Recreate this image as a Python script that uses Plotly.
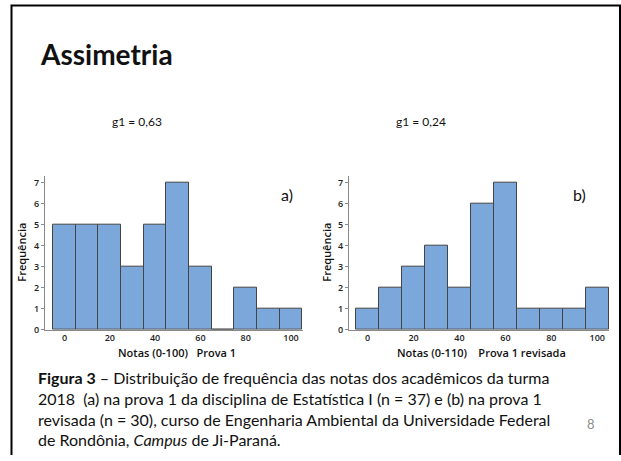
import plotly.graph_objects as go

W, H = 621, 461

bins = [0, 10, 20, 30, 40, 50, 60, 70, 80, 90, 100]
freq_a = [5, 5, 5, 3, 5, 7, 3, 0, 2, 1, 1]
freq_b = [1, 2, 3, 4, 2, 6, 7, 1, 1, 1, 2]
y_ticks = [0, 1, 2, 3, 4, 5, 6, 7]
x_ticks = [0, 20, 40, 60, 80, 100]

title_text = "Assimetria"
g1_a = "g1 = 0,63"
g1_b = "g1 = 0,24"
xtitle_a = "Notas (0-100)&nbsp;&nbsp;&nbsp;Prova 1"
xtitle_b = "Notas (0-110)&nbsp;&nbsp;&nbsp;&nbsp;Prova 1 revisada"
ytitle = "Frequência"
caption = ("<b>Figura 3</b> – Distribuição de frequência das notas dos acadêmicos da turma<br>"
           "2018  (a) na prova 1 da disciplina de Estatística I (n = 37) e (b) na prova 1<br>"
           "revisada (n = 30), curso de Engenharia Ambiental da Universidade Federal<br>"
           "de Rondônia, <i>Campus</i> de Ji-Paraná.")

BAR = "#7BA7DB"
EDGE = "#444444"
AX = "#8a8a8a"

def px(x):
    return x / W

def py(y):
    return 1 - y / H

fig = go.Figure()
fig.add_trace(go.Bar(x=bins, y=freq_a, width=10, marker=dict(color=BAR, line=dict(color=EDGE, width=1)),
                     xaxis="x", yaxis="y", showlegend=False))
fig.add_trace(go.Bar(x=bins, y=freq_b, width=10, marker=dict(color=BAR, line=dict(color=EDGE, width=1)),
                     xaxis="x2", yaxis="y2", showlegend=False))

tickfont = dict(family="Open Sans", size=9, color="#222222", weight=600)
ydom = [py(334), py(178)]
common_y = dict(range=[0, 7.33], tickvals=y_ticks, showline=True, linecolor=AX, linewidth=1,
                ticks="outside", ticklen=3, tickcolor=AX, showgrid=False, zeroline=False,
                tickfont=tickfont, fixedrange=True)
common_x = dict(tickvals=x_ticks, showline=True, linecolor=AX, linewidth=1, ticks="",
                showgrid=False, zeroline=False, tickfont=tickfont)

fig.update_layout(
    width=W, height=H, margin=dict(l=0, r=0, t=0, b=0),
    paper_bgcolor="white", plot_bgcolor="white", bargap=0,
    xaxis=dict(domain=[px(45), px(303)], range=[-8.6, 105.3], anchor="y", **common_x),
    yaxis=dict(domain=ydom, anchor="x", **common_y),
    xaxis2=dict(domain=[px(349), px(609)], range=[-8.1, 105.1], anchor="y2", **common_x),
    yaxis2=dict(domain=ydom, anchor="x2", **common_y),
)

ann = []
def text(x, y, t, size, xanchor="center", color="#111111", family="Lato", angle=0, weight=None):
    f = dict(family=family, size=size, color=color)
    if weight:
        f["weight"] = weight
    ann.append(dict(x=px(x), y=py(y), xref="paper", yref="paper", text=t, showarrow=False,
                    xanchor=xanchor, yanchor="middle", textangle=angle, font=f))

text(38, 55, "<b>" + title_text + "</b>", 28, xanchor="left")
text(110, 123, g1_a, 12, xanchor="left")
text(394, 123, g1_b, 12, xanchor="left")
text(287, 197, "a)", 16)
text(579, 197, "b)", 16)
text(22, 256, ytitle, 11, angle=-90, family="Open Sans", weight=600)
text(327, 256, ytitle, 11, angle=-90, family="Open Sans", weight=600)
text(177, 357, xtitle_a, 11, family="Open Sans", weight=600)
text(481, 357, xtitle_b, 11, family="Open Sans", weight=600)
ann.append(dict(x=px(36), y=py(371), xref="paper", yref="paper", text=caption, showarrow=False,
                xanchor="left", yanchor="top", align="left",
                font=dict(family="Lato", size=16, color="#111111")))
text(591, 430, "8", 13, color="#8c8c8c")
fig.update_layout(annotations=ann)

# slide border
fig.add_shape(type="path", xref="paper", yref="paper",
              path=f"M {px(11.5)} 0 L {px(11.5)} {py(5.5)} L {px(620)} {py(5.5)} L {px(620)} 0",
              line=dict(color="black", width=2))

fig.write_html("out.html")
